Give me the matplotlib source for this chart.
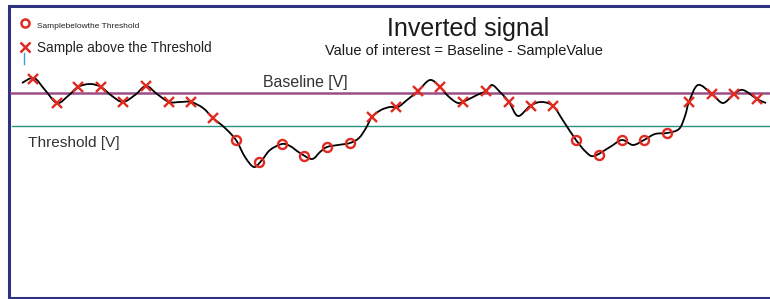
"""Inverted signal sketch: samples above/below a threshold around a baseline."""

import matplotlib.pyplot as plt
from matplotlib.path import Path
from matplotlib.patches import PathPatch

# canvas units are pixels of the original 770x299 picture (y grows downward)
WIDTH = 770
HEIGHT = 299

# sampled points of the signal (time, level)
sample_x = [33, 57, 78, 101, 123, 146, 169, 191, 213, 236, 259, 282, 304, 327, 350,
            372, 396, 418, 440, 463, 486, 509, 531, 553, 576, 599, 622, 644, 667,
            689, 712, 734, 757]
sample_y = [79, 103, 87, 87, 102, 86, 102, 102, 118, 140, 162, 144, 156, 147, 143,
            117, 107, 91, 87, 102, 91, 102, 106, 106, 140, 155, 140, 140, 133,
            102, 94, 94, 99]

# the continuous signal trace
trace_x = [22, 34, 45, 57, 68, 78, 90, 101, 112, 123, 135, 146, 157, 169, 180, 191,
           203, 213, 225, 236, 245, 254, 262, 270, 282, 290, 300, 312, 320, 327,
           338, 350, 359, 366, 372, 381, 390, 398, 407, 418, 430, 440, 448, 458,
           467, 477, 486, 492, 500, 509, 518, 530, 541, 553, 564, 576, 586, 594,
           610, 622, 633, 644, 655, 667, 679, 685, 689, 698, 712, 723, 734, 743,
           757, 766]
trace_y = [83, 78, 90, 103, 96, 87, 84, 87, 96, 102, 95, 86, 94, 102, 102, 102,
           108, 118, 128, 140, 157, 167, 160, 150, 144, 146, 153, 159, 152, 147,
           145, 143, 138, 128, 117, 110, 107, 107, 100, 91, 80, 87, 96, 103,
           100, 95, 91, 85, 92, 102, 116, 106, 102, 106, 122, 140, 152, 156,
           147, 140, 145, 140, 134, 133, 129, 116, 102, 85, 94, 103, 94, 90,
           99, 103]

BASELINE = 93.3
THRESHOLD = 126

RED = "#e02a22"
NAVY = "#2d337f"


def smooth_path(xs, ys):
    # Catmull-Rom tangents turned into cubic bezier segments
    pts = list(zip(xs, ys))
    verts = [pts[0]]
    codes = [Path.MOVETO]
    for i in range(len(pts) - 1):
        p0 = pts[i - 1] if i > 0 else pts[i]
        p1 = pts[i]
        p2 = pts[i + 1]
        p3 = pts[i + 2] if i + 2 < len(pts) else pts[i + 1]
        c1 = (p1[0] + (p2[0] - p0[0]) / 6, p1[1] + (p2[1] - p0[1]) / 6)
        c2 = (p2[0] - (p3[0] - p1[0]) / 6, p2[1] - (p3[1] - p1[1]) / 6)
        verts += [c1, c2, p2]
        codes += [Path.CURVE4] * 3
    return Path(verts, codes)


fig = plt.figure(figsize=(7.7, 2.99), dpi=100)
ax = fig.add_axes([0, 0, 1, 1])
ax.set_xlim(0, WIDTH)
ax.set_ylim(HEIGHT, 0)
ax.axis("off")

# frame (open on the right)
ax.plot([WIDTH, 9.3, 9.3, WIDTH], [6, 6, 297.6, 297.6], color=NAVY, lw=2.2,
        solid_joinstyle="miter", clip_on=False)

# reference lines
ax.plot([10.5, WIDTH], [BASELINE, BASELINE], color="#9c4d88", lw=1.8, zorder=2)
ax.plot([12, WIDTH], [THRESHOLD, THRESHOLD], color="#2b8f80", lw=1.0, zorder=2)

# signal trace
ax.add_patch(PathPatch(smooth_path(trace_x, trace_y), fill=False,
                       edgecolor="black", lw=1.3, zorder=3))

below = [(x, y) for x, y in zip(sample_x, sample_y) if y > THRESHOLD]
above = [(x, y) for x, y in zip(sample_x, sample_y) if y <= THRESHOLD]
ax.plot([p[0] for p in below], [p[1] for p in below], "o", ms=6.5,
        mfc="none", mec=RED, mew=1.7, zorder=4)
ax.plot([p[0] for p in above], [p[1] for p in above], "x", ms=7,
        mec=RED, mew=1.7, zorder=4)

# legend
ax.plot([25], [23.3], "o", ms=5.8, mfc="none", mec=RED, mew=1.8)
ax.text(37, 28, "Samplebelowthe Threshold", fontsize=6,
        family=["Liberation Sans Narrow", "Liberation Sans"], color="#222222",
        va="baseline", ha="left")
ax.plot([25], [46.5], "x", ms=6.5, mec=RED, mew=1.8)
ax.text(37, 52, "Sample above the Threshold", fontsize=9.8,
        family="Liberation Sans", color="#222222", va="baseline", ha="left")
ax.plot([24, 24], [53, 64], color="#3a9fe0", lw=1.0)

# titles and labels
ax.text(468, 36, "Inverted signal", fontsize=18, family="Liberation Sans",
        color="#1a1a1a", ha="center", va="baseline")
ax.text(463.5, 55, "Value of interest = Baseline - SampleValue", fontsize=10.5,
        family="Liberation Sans", color="#1a1a1a", ha="center", va="baseline")
ax.text(263, 87.5, "Baseline [V]", fontsize=11.4, family="Liberation Sans",
        color="#333333", ha="left", va="baseline")
ax.text(28, 147.3, "Threshold [V]", fontsize=11.1, family="Liberation Sans",
        color="#333333", ha="left", va="baseline")

fig.savefig("out.png", dpi=100, facecolor="white")
plt.close(fig)
